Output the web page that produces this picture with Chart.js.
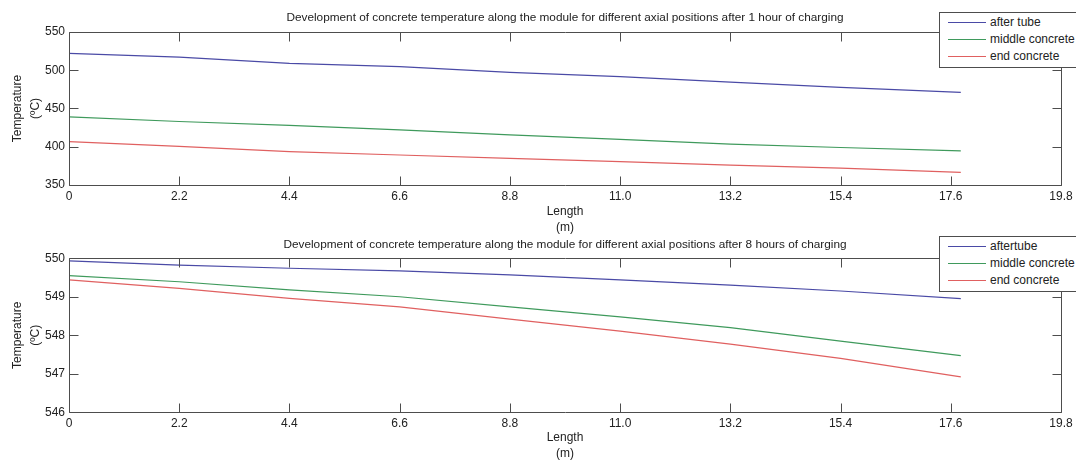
<!DOCTYPE html>
<html>
<head>
<meta charset="utf-8">
<title>Concrete temperature along the module</title>
<script src="https://cdn.jsdelivr.net/npm/chart.js@4.4.1/dist/chart.umd.min.js"></script>
<style>
    html, body { margin: 0; padding: 0; background: #fff; overflow: hidden; }
    #wrap { position: relative; width: 1076px; height: 461px; overflow: hidden; }
    #wrap canvas { position: absolute; left: 0; }
    #chart-1h { top: 0; }
    #chart-8h { top: 230px; }
    .legend {
        position: absolute; left: 939px; width: 150px;
        background: #fff; border: 1px solid #4d4d4d;
        font: 12px "Liberation Sans", Arial, sans-serif; color: #222;
        padding: 1px 0 2px 0;
    }
    .legend div { height: 17px; line-height: 17px; white-space: nowrap; }
    .legend span { display: inline-block; width: 38px; margin: 0 4px 0 8px; vertical-align: middle; border-top: 1.5px solid; }
</style>
</head>
<body>
<div id="wrap">
    <canvas id="chart-1h" width="1076" height="240"></canvas>
    <canvas id="chart-8h" width="1076" height="231"></canvas>
    <div class="legend" id="legend-1h" style="top:12px"></div>
    <div class="legend" id="legend-8h" style="top:236px"></div>
</div>
<script>
// x positions along the module (m)
const lengths = [0, 2.2, 4.4, 6.6, 8.8, 11.0, 13.2, 15.4, 17.8];
const xTicks = [0, 2.2, 4.4, 6.6, 8.8, 11.0, 13.2, 15.4, 17.6, 19.8];
const xTickLabels = ['0', '2.2', '4.4', '6.6', '8.8', '11.0', '13.2', '15.4', '17.6', '19.8'];

// after 1 hour of charging
const tube1h   = [522, 517, 509, 504.7, 497.3, 491.6, 484.5, 477.7, 471];
const middle1h = [439, 433, 428, 422, 415.4, 409.7, 403.5, 399, 394.5];
const end1h    = [406.6, 400.5, 393.6, 389.2, 384.8, 380.5, 376, 372, 366.6];
const yTicks1h = [350, 400, 450, 500, 550];
const names1h  = ['after tube', 'middle concrete', 'end concrete'];

// after 8 hours of charging
const tube8h   = [549.93, 549.82, 549.74, 549.67, 549.57, 549.44, 549.30, 549.15, 548.95];
const middle8h = [549.55, 549.39, 549.18, 549.00, 548.74, 548.48, 548.20, 547.85, 547.47];
const end8h    = [549.44, 549.22, 548.96, 548.74, 548.42, 548.11, 547.77, 547.40, 546.92];
const yTicks8h = [546, 547, 548, 549, 550];
const names8h  = ['aftertube', 'middle concrete', 'end concrete'];

const colors = ['#4a4aa6', '#3f9a5c', '#e06060'];
const FONT = '"Liberation Sans", Arial, sans-serif';
const TEXT = '#222';
const FRAME = '#4d4d4d';

// matlab style frame with inward ticks on all four sides
const boxTicks = {
    id: 'boxTicks',
    afterDatasetsDraw(chart) {
        const { ctx, chartArea: a, scales: { x, y } } = chart;
        const len = 9;
        const L = Math.round(a.left) + 0.5, R = Math.round(a.right) + 0.5;
        const T = Math.round(a.top) + 0.5, B = Math.round(a.bottom) + 0.5;
        ctx.save();
        ctx.strokeStyle = FRAME;
        ctx.lineWidth = 1;
        ctx.beginPath();
        x.ticks.forEach(t => {
            const px = Math.round(x.getPixelForValue(t.value)) + 0.5;
            ctx.moveTo(px, B); ctx.lineTo(px, B - len);
            ctx.moveTo(px, T); ctx.lineTo(px, T + len);
        });
        y.ticks.forEach(t => {
            const py = Math.round(y.getPixelForValue(t.value)) + 0.5;
            ctx.moveTo(L, py); ctx.lineTo(L + len, py);
            ctx.moveTo(R, py); ctx.lineTo(R - len, py);
        });
        ctx.rect(L, T, R - L, B - T);
        ctx.stroke();
        ctx.restore();
    }
};

function makeChart(id, cfg) {
    const datasets = cfg.series.map((vals, i) => ({
        label: cfg.names[i],
        data: vals.map((v, k) => ({ x: lengths[k], y: v })),
        borderColor: colors[i],
        borderWidth: 1.2,
        pointRadius: 0,
        tension: 0
    }));

    return new Chart(document.getElementById(id), {
        type: 'line',
        data: { datasets },
        plugins: [boxTicks],
        options: {
            responsive: false,
            animation: false,
            layout: { padding: { left: 0, right: 15, top: 0, bottom: 0 } },
            plugins: {
                legend: { display: false },
                tooltip: { enabled: false },
                title: {
                    display: true,
                    fullSize: false,
                    text: cfg.title,
                    color: TEXT,
                    font: { family: FONT, size: 11.8, weight: 'normal' },
                    padding: cfg.titlePad
                }
            },
            scales: {
                x: {
                    type: 'linear',
                    min: 0,
                    max: 19.8,
                    afterBuildTicks: s => { s.ticks = xTicks.map(v => ({ value: v })); },
                    afterFit: s => { s.height = cfg.xHeight; s.paddingLeft = 0; s.paddingRight = 0; },
                    grid: { display: false, drawTicks: false },
                    border: { display: false },
                    ticks: {
                        autoSkip: false, maxRotation: 0, padding: 4, color: TEXT,
                        font: { family: FONT, size: 12 },
                        callback: (v, i) => xTickLabels[i]
                    },
                    title: {
                        display: true, text: ['Length', '(m)'], color: TEXT,
                        font: { family: FONT, size: 12, lineHeight: 1.3 },
                        padding: { top: 0, bottom: cfg.xTitlePad }
                    }
                },
                y: {
                    min: cfg.yTicks[0],
                    max: cfg.yTicks[cfg.yTicks.length - 1],
                    afterBuildTicks: s => { s.ticks = cfg.yTicks.map(v => ({ value: v })); },
                    afterFit: s => { s.width = 69; s.paddingTop = 0; s.paddingBottom = 0; },
                    grid: { display: false, drawTicks: false },
                    border: { display: false },
                    ticks: {
                        padding: 4, color: TEXT,
                        font: { family: FONT, size: 12 },
                        callback: v => String(v)
                    },
                    title: {
                        display: true, text: ['Temperature', '(\u00baC)'], color: TEXT,
                        font: { family: FONT, size: 12, lineHeight: 1.5 },
                        padding: { top: 9, bottom: 0 }
                    }
                }
            }
        }
    });
}

function makeLegend(id, names) {
    document.getElementById(id).innerHTML = names.map((n, i) =>
        `<div><span style="border-color:${colors[i]}"></span>${n}</div>`).join('');
}

makeChart('chart-1h', {
    title: 'Development of concrete temperature along the module for different axial positions after 1 hour of charging',
    titlePad: { top: 10.4, bottom: 7.4 },
    series: [tube1h, middle1h, end1h],
    names: names1h,
    yTicks: yTicks1h,
    xHeight: 55,
    xTitlePad: 4.6
});

makeChart('chart-8h', {
    title: 'Development of concrete temperature along the module for different axial positions after 8 hours of charging',
    titlePad: { top: 7.7, bottom: 6.4 },
    series: [tube8h, middle8h, end8h],
    names: names8h,
    yTicks: yTicks8h,
    xHeight: 48.7,
    xTitlePad: 0
});

makeLegend('legend-1h', names1h);
makeLegend('legend-8h', names8h);
</script>
</body>
</html>
